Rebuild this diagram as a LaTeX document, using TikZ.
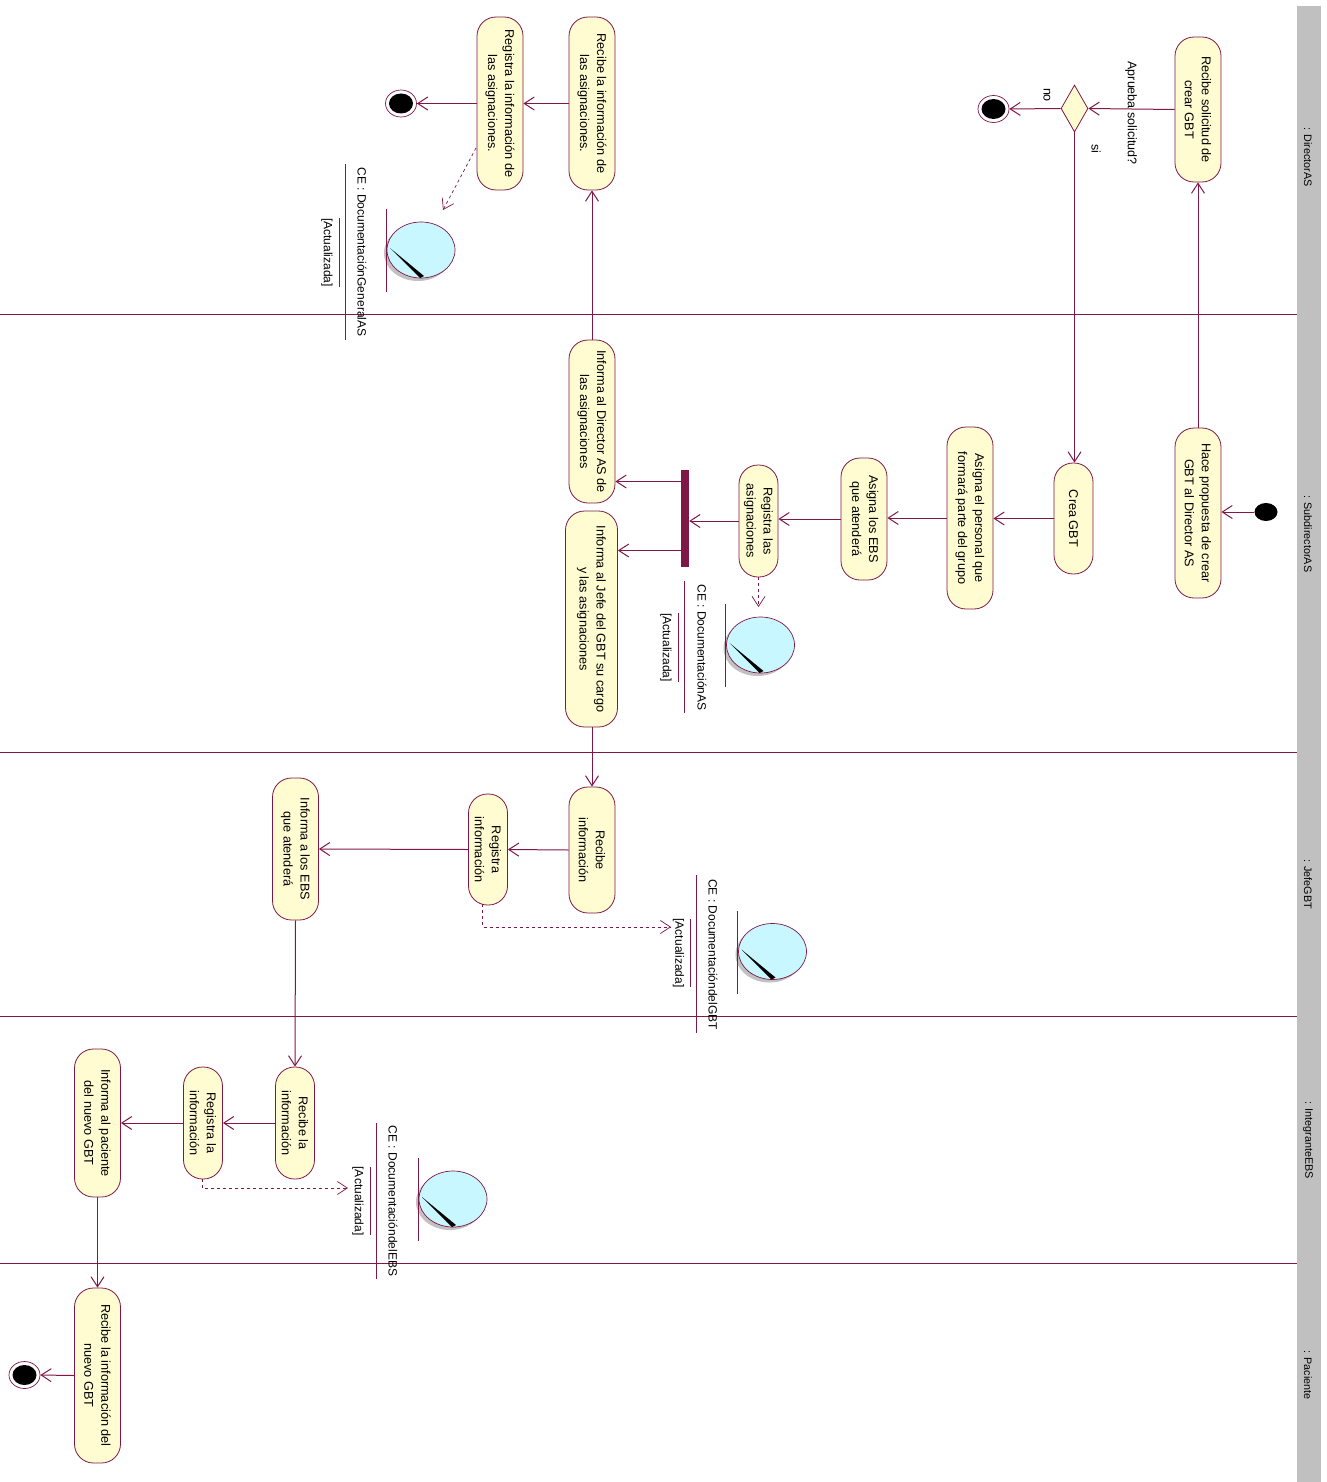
\documentclass[tikz,border=0pt]{standalone}
\usepackage{fontspec}
\setmainfont{Liberation Sans}
\usetikzlibrary{arrows.meta,shapes.geometric,shadows}
\definecolor{umlline}{HTML}{7F1747}
\definecolor{umlfill}{HTML}{FFFCD2}
\definecolor{umldoc}{HTML}{C9F7FF}
\definecolor{umlband}{HTML}{C0C0C0}
\begin{document}
\begin{tikzpicture}[
  x=1pt,y=-1pt,
  >={Straight Barb[length=10pt,width=13pt]},
  act/.style={draw=umlline,fill=umlfill,rounded corners=19pt,rotate=-90,align=center,
    inner sep=0pt,line width=0.8pt,font=\fontsize{12.7}{17}\selectfont},
  decision/.style={draw=umlline,fill=umlfill,diamond,inner sep=0pt,line width=0.8pt},
  startdot/.style={ellipse,fill=black,inner sep=0pt,minimum width=23pt,minimum height=18pt},
  enddot/.style={ellipse,draw=umlline,fill=white,inner sep=0pt,line width=0.7pt,
    minimum width=31pt,minimum height=27pt,
    path picture={\fill[black] (path picture bounding box.center) ellipse (12pt and 10pt);}},
  joinbar/.style={fill=umlline,inner sep=0pt,minimum width=8pt,minimum height=97pt},
  docobj/.style={ellipse,draw=umlline,fill=umldoc,inner sep=0pt,line width=0.7pt,
    minimum width=68pt,minimum height=56pt,
    drop shadow={shadow xshift=-3pt,shadow yshift=-3pt,fill=black!35,opacity=0.7}},
  doctext/.style={rotate=-90,text=black,font=\fontsize{12}{14}\selectfont,inner sep=0pt},
  label/.style={rotate=-90,text=black,font=\fontsize{12.5}{14}\selectfont,inner sep=0pt},
  bandtext/.style={rotate=-90,text=black,font=\fontsize{10.8}{13}\selectfont,inner sep=0pt},
  lane/.style={umlline,line width=0.6pt},
  flow/.style={->,umlline,line width=1pt},
  dep/.style={->,umlline,line width=0.7pt,dashed}
]
\useasboundingbox (0,0) rectangle (1326,1482);

% swimlane band
\fill[umlband] (1297,6) rectangle (1321,1482);
\foreach \lanepos in {314,752,1016,1263}
  \draw[lane] (0,\lanepos) -- (1297,\lanepos);
\node[bandtext] (laneDirector) at (1308,157) {: DirectorAS};
\node[bandtext] (laneSubdirector) at (1308,534) {: SubdirectorAS};
\node[bandtext] (laneJefe) at (1308,884) {: JefeGBT};
\node[bandtext] (laneIntegrante) at (1308,1140) {: IntegranteEBS};
\node[bandtext] (lanePaciente) at (1308,1375) {: Paciente};

% DirectorAS
\node[act,minimum width=145pt,minimum height=46pt] (recibeSolicitud) at (1198,109.5)
  {Recibe solicitud de\\crear GBT};
\node[decision,minimum width=27pt,minimum height=47pt,aspect=0.6] (aprueba) at (1074.5,108.5) {};
\node[enddot] (finDirectorA) at (993.5,109) {};
\node[act,minimum width=173pt,minimum height=46pt] (recibeAsig) at (592,103.5)
  {Recibe la información de\\las asignaciones.};
\node[act,minimum width=173pt,minimum height=46pt] (registraAsig) at (500,103.5)
  {Registra la información de\\las asignaciones.};
\node[enddot] (finDirectorB) at (401,103.5) {};

% SubdirectorAS
\node[startdot] (inicio) at (1266,512) {};
\node[act,minimum width=170pt,minimum height=46pt] (hacePropuesta) at (1198,513)
  {Hace propuesta de crear\\GBT al Director AS};
\node[act,minimum width=111pt,minimum height=39pt] (creaGBT) at (1073.5,518.5) {Crea GBT};
\node[act,minimum width=182pt,minimum height=46pt] (asignaPersonal) at (970,518)
  {Asigna el personal que\\formará parte del grupo};
\node[act,minimum width=122pt,minimum height=46pt] (asignaEBS) at (864,519)
  {Asigna los EBS\\que atenderá};
\node[act,minimum width=112pt,minimum height=39pt] (registraLas) at (758.5,521)
  {Registra las\\asignaciones};
\node[joinbar] (barra) at (685,518.5) {};
\node[act,minimum width=163pt,minimum height=46pt] (informaDirector) at (592,421.5)
  {Informa al Director AS de\\las asignaciones};
\node[act,minimum width=216pt,minimum height=52pt] (informaJefe) at (591.5,619)
  {Informa al Jefe del GBT su cargo\\y las asignaciones};

% JefeGBT
\node[act,minimum width=126pt,minimum height=46pt] (recibeInfo) at (592,850)
  {Recibe\\información};
\node[act,minimum width=111pt,minimum height=39pt] (registraInfo) at (488,849.5)
  {Registra\\información};
\node[act,minimum width=142pt,minimum height=46pt] (informaEBS) at (295.5,849)
  {Informa a los EBS\\que atenderá};

% IntegranteEBS
\node[act,minimum width=112pt,minimum height=39pt] (recibeLa) at (295,1123)
  {Recibe la\\información};
\node[act,minimum width=112pt,minimum height=39pt] (registraLa) at (203,1123)
  {Registra la\\información};
\node[act,minimum width=148pt,minimum height=46pt] (informaPaciente) at (97.5,1123)
  {Informa al paciente\\del nuevo GBT};

% Paciente
\node[act,minimum width=175pt,minimum height=46pt] (recibeNuevo) at (97.5,1375.5)
  {Recibe la información del\\nuevo GBT};
\node[enddot] (finPaciente) at (24.5,1375) {};

% documents
\node[docobj] (docGeneral) at (421,250) {};
\node[docobj] (docAS) at (760.5,645) {};
\node[docobj] (docJefe) at (772.5,951.5) {};
\node[docobj] (docEBS) at (453,1199) {};
\foreach \doc in {docGeneral,docAS,docJefe,docEBS} {
  \fill[black] ([shift={(-31,-2)}]\doc.center) -- ([shift={(3,26)}]\doc.center)
    -- ([shift={(-1,28)}]\doc.center) -- cycle;
  \draw[lane] ([shift={(-35,-41)}]\doc.center) -- ([shift={(-35,42)}]\doc.center);
}
\node[doctext] (nameGeneral) at (362,252) {CE : DocumentaciónGeneralAS};
\node[doctext] (stateGeneral) at (327,252.5) {[Actualizada]};
\draw[lane] (345,164) -- (345,340);
\draw[lane] (339,218) -- (339,287);
\node[doctext] (nameAS) at (702,647.5) {CE : DocumentaciónAS};
\node[doctext] (stateAS) at (666,647.5) {[Actualizada]};
\draw[lane] (684,581) -- (684,713);
\draw[lane] (678,613) -- (678,682);
\node[doctext] (nameJefe) at (713,954.5) {CE : DocumentacióndelGBT};
\node[doctext] (stateJefe) at (678.5,953) {[Actualizada]};
\draw[lane] (696,875) -- (696,1033);
\draw[lane] (690,919) -- (690,987);
\node[doctext] (nameEBS) at (393,1201) {CE : DocumentacióndelEBS};
\node[doctext] (stateEBS) at (358,1201) {[Actualizada]};
\draw[lane] (376,1123) -- (376,1279);
\draw[lane] (370,1167) -- (370,1235);

% dependency ends
\coordinate (depGeneralA) at (476,148);
\coordinate (depGeneralB) at (443,210);
\coordinate (depASB) at (758.5,607);
\coordinate (depJefeA) at (482.5,904);
\coordinate (depJefeB) at (482.5,927);
\coordinate (depJefeC) at (671,927);
\coordinate (depEBSA) at (202,1179);
\coordinate (depEBSB) at (202,1188);
\coordinate (depEBSC) at (348,1188);

% flows
\draw[flow] (inicio.west) -- (inicio.west -| hacePropuesta.north);
\draw[flow] (hacePropuesta.west) -- (recibeSolicitud.east);
\draw[flow] (recibeSolicitud.south) -- (aprueba.east);
\node[label] (apruebaText) at (1131,113) {Aprueba solicitud?};
\draw[flow] (aprueba.west) -- (finDirectorA.east);
\node[label] (noText) at (1047,95) {no};
\draw[flow] (aprueba.south) -- (aprueba.south |- creaGBT.west);
\node[label] (siText) at (1096,149) {si};
\draw[flow] (creaGBT.south) -- (creaGBT.south -| asignaPersonal.north);
\draw[flow] (asignaPersonal.south) -- (asignaPersonal.south -| asignaEBS.north);
\draw[flow] (asignaEBS.south) -- (asignaEBS.south -| registraLas.north);
\draw[flow] (registraLas.south) -- (registraLas.south -| barra.east);
\draw[flow] ([yshift=37pt]barra.west) -- ([yshift=37pt]barra.west -| informaDirector.north);
\draw[flow] ([yshift=-32pt]barra.west) -- ([yshift=-32pt]barra.west -| informaJefe.north);
\draw[flow] (informaDirector.west) -- (recibeAsig.east);
\draw[flow] (recibeAsig.south) -- (registraAsig.north);
\draw[flow] (registraAsig.south) -- (finDirectorB.east);
\draw[dep] (depGeneralA) -- (depGeneralB);
\draw[dep] (registraLas.east) -- (depASB);
\draw[flow] (informaJefe.east -| recibeInfo.center) -- (recibeInfo.west);
\draw[flow] (recibeInfo.south) -- (registraInfo.north);
\draw[flow] (registraInfo.south) -- (informaEBS.north);
\draw[dep] (depJefeA) -- (depJefeB) -- (depJefeC);
\draw[flow] (informaEBS.east) -- (recibeLa.west);
\draw[flow] (recibeLa.south) -- (registraLa.north);
\draw[flow] (registraLa.south) -- (informaPaciente.north);
\draw[flow] (informaPaciente.east) -- (recibeNuevo.west);
\draw[flow] (recibeNuevo.south) -- (finPaciente.east);
\draw[dep] (depEBSA) -- (depEBSB) -- (depEBSC);
\end{tikzpicture}
\end{document}
